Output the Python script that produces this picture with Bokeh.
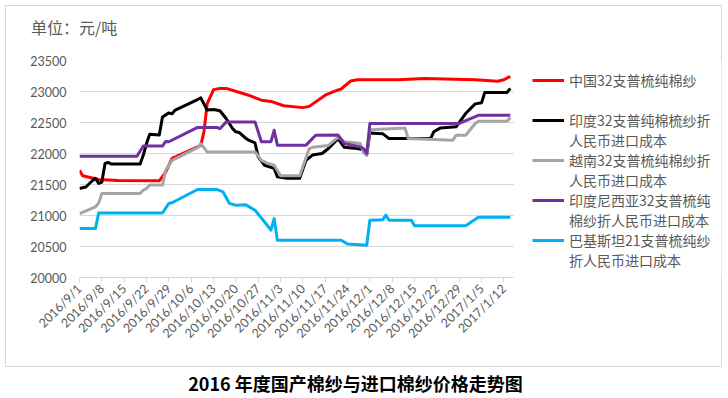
import math
import pandas as pd
from bokeh.plotting import figure
from bokeh.models import Range1d, FixedTicker, Legend, LegendItem, Title, LinearAxis
from bokeh.embed import file_html
from bokeh.resources import INLINE

# ---------------- data ----------------
start_date = "2016/9/1"

x_tick_labels = ["2016/9/1", "2016/9/8", "2016/9/15", "2016/9/22", "2016/9/29",
                 "2016/10/6", "2016/10/13", "2016/10/20", "2016/10/27", "2016/11/3",
                 "2016/11/10", "2016/11/17", "2016/11/24", "2016/12/1", "2016/12/8",
                 "2016/12/15", "2016/12/22", "2016/12/29", "2017/1/5", "2017/1/12"]
y_ticks = [20000, 20500, 21000, 21500, 22000, 22500, 23000, 23500]

china_dates = ["2016/9/1", "2016/9/2", "2016/9/7", "2016/9/13", "2016/9/26", "2016/9/28",
               "2016/9/30", "2016/10/9", "2016/10/10", "2016/10/11", "2016/10/13", "2016/10/15",
               "2016/10/17", "2016/10/24", "2016/10/28", "2016/10/31", "2016/11/4", "2016/11/10",
               "2016/11/12", "2016/11/17", "2016/11/20", "2016/11/22", "2016/11/25", "2016/11/27",
               "2016/12/10", "2016/12/18", "2017/1/3", "2017/1/10", "2017/1/12", "2017/1/14"]
china_vals = [21730, 21640, 21580, 21565, 21560, 21700,
              21920, 22130, 22350, 22800, 23030, 23050,
              23050, 22940, 22860, 22840, 22770, 22740,
              22760, 22940, 23005, 23040, 23170, 23190,
              23190, 23210, 23190, 23165, 23190, 23245]

india_dates = ["2016/9/1", "2016/9/3", "2016/9/5", "2016/9/6", "2016/9/7", "2016/9/8",
               "2016/9/9", "2016/9/10", "2016/9/11", "2016/9/20", "2016/9/21", "2016/9/22",
               "2016/9/23", "2016/9/26", "2016/9/27", "2016/9/29", "2016/9/30", "2016/10/1",
               "2016/10/8", "2016/10/9", "2016/10/11", "2016/10/13", "2016/10/15", "2016/10/17",
               "2016/10/18", "2016/10/19", "2016/10/20", "2016/10/21", "2016/10/23", "2016/10/24",
               "2016/10/26", "2016/10/27", "2016/10/29", "2016/11/1", "2016/11/2", "2016/11/5",
               "2016/11/9", "2016/11/11", "2016/11/13", "2016/11/16", "2016/11/18", "2016/11/21",
               "2016/11/23", "2016/11/27", "2016/11/29", "2016/11/30", "2016/12/1", "2016/12/5",
               "2016/12/7", "2016/12/20", "2016/12/21", "2016/12/23", "2016/12/28", "2016/12/31",
               "2017/1/3", "2017/1/5", "2017/1/6", "2017/1/13", "2017/1/14"]
india_vals = [21435, 21460, 21560, 21600, 21516, 21540,
              21840, 21855, 21830, 21830, 21975, 22160,
              22310, 22300, 22590, 22655, 22640, 22700,
              22870, 22900, 22700, 22710, 22690, 22560,
              22480, 22400, 22350, 22340, 22250, 22215,
              22170, 21945, 21810, 21760, 21625, 21600,
              21600, 21890, 21975, 22000, 22080, 22240,
              22100, 22080, 22060, 21975, 22330, 22320,
              22240, 22240, 22350, 22410, 22430, 22645,
              22800, 22820, 22985, 22985, 23050]

vietnam_dates = ["2016/9/1", "2016/9/4", "2016/9/6", "2016/9/7", "2016/9/8", "2016/9/20",
                 "2016/9/21", "2016/9/22", "2016/9/23", "2016/9/27", "2016/9/28", "2016/9/30",
                 "2016/10/8", "2016/10/9", "2016/10/11", "2016/10/26", "2016/10/28", "2016/10/30",
                 "2016/11/1", "2016/11/3", "2016/11/9", "2016/11/12", "2016/11/13", "2016/11/18",
                 "2016/11/21", "2016/11/23", "2016/11/28", "2016/11/29", "2016/11/30", "2016/12/1",
                 "2016/12/12", "2016/12/13", "2016/12/27", "2016/12/28", "2016/12/31", "2017/1/3",
                 "2017/1/4", "2017/1/13", "2017/1/14"]
vietnam_vals = [21030, 21095, 21140, 21200, 21355, 21355,
                21410, 21435, 21490, 21490, 21730, 21890,
                22095, 22160, 22025, 22025, 21890, 21840,
                21810, 21640, 21640, 22080, 22100, 22130,
                22260, 22190, 22160, 22010, 21975, 22385,
                22410, 22240, 22215, 22295, 22295, 22485,
                22520, 22520, 22580]

indonesia_dates = ["2016/9/1", "2016/9/19", "2016/9/21", "2016/9/27", "2016/9/28", "2016/9/29",
                   "2016/10/8", "2016/10/14", "2016/10/15", "2016/10/17", "2016/10/26", "2016/10/28",
                   "2016/10/31", "2016/11/1", "2016/11/2", "2016/11/11", "2016/11/14", "2016/11/21",
                   "2016/11/23", "2016/11/28", "2016/11/29", "2016/11/30", "2016/12/1", "2016/12/29",
                   "2017/1/4", "2017/1/14"]
indonesia_vals = [21955, 21955, 22120, 22120, 22195, 22190,
                  22420, 22420, 22400, 22510, 22510, 22190,
                  22190, 22375, 22135, 22135, 22295, 22300,
                  22160, 22105, 22080, 22000, 22485, 22485,
                  22615, 22615]

pakistan_dates = ["2016/9/1", "2016/9/6", "2016/9/7", "2016/9/27", "2016/9/29", "2016/9/30",
                  "2016/10/8", "2016/10/14", "2016/10/16", "2016/10/18", "2016/10/20", "2016/10/23",
                  "2016/10/26", "2016/10/29", "2016/10/31", "2016/11/1", "2016/11/2", "2016/11/22",
                  "2016/11/24", "2016/11/30", "2016/12/1", "2016/12/5", "2016/12/6", "2016/12/7",
                  "2016/12/14", "2016/12/15", "2016/12/31", "2017/1/4", "2017/1/14"]
pakistan_vals = [20790, 20790, 21040, 21040, 21195, 21205,
                 21420, 21420, 21380, 21195, 21165, 21175,
                 21085, 20895, 20765, 20950, 20600, 20600,
                 20540, 20520, 20925, 20930, 21005, 20925,
                 20925, 20835, 20835, 20970, 20970]

series_names = [
    ["中国32支普梳纯棉纱", " "],
    ["印度32支普纯棉梳纱折", "人民币进口成本"],
    ["越南32支普梳纯棉纱折", "人民币进口成本"],
    ["印度尼西亚32支普梳纯", "棉纱折人民币进口成本"],
    ["巴基斯坦21支普梳纯纱", "折人民币进口成本"],
]
series_colors = ["#FF0000", "#000000", "#A5A5A5", "#7030A0", "#00B0F0"]

unit_text = "单位：元/吨"
title_text = "2016 年度国产棉纱与进口棉纱价格走势图"

# ---------------- helpers ----------------
t0 = pd.Timestamp(start_date)


def to_days(dates):
    return [(pd.Timestamp(d) - t0).days for d in dates]


last_day = to_days(["2017/1/14"])[0] + 1          # data span shown by the axis line
px_per_day = 434 / last_day
plot_left, plot_right = 79, 721

# ---------------- chart ----------------
p = figure(width=728, height=398, output_backend="svg", toolbar_location=None,
           x_range=Range1d(0, (plot_right - plot_left) / px_per_day),
           y_range=Range1d(20000, 23500),
           min_border_left=plot_left, min_border_right=728 - plot_right,
           min_border_top=60, min_border_bottom=121)
p.outline_line_color = None
p.background_fill_color = "white"
p.border_fill_alpha = 0
g = "linear-gradient(#D9D9D9,#D9D9D9)"
p.styles = {"background": (f"{g} 5px 5px/717px 1px no-repeat, {g} 5px 366px/717px 1px no-repeat, "
                           f"{g} 5px 5px/1px 362px no-repeat, {g} 721px 5px/1px 362px no-repeat, white")}

tick_pos = to_days(x_tick_labels)
p.xaxis.bounds = (0, last_day)
p.xaxis.ticker = FixedTicker(ticks=tick_pos)
p.xaxis.major_label_overrides = {d: lab for d, lab in zip(tick_pos, x_tick_labels)}
p.xaxis.major_label_orientation = math.pi / 4
p.xaxis.major_label_text_font = "Lato"
p.xaxis.major_label_text_font_size = "12.5px"
p.xaxis.major_label_text_color = "#595959"
p.xaxis.axis_line_color = "#D9D9D9"
p.xaxis.major_tick_line_color = "#D9D9D9"
p.xaxis.major_tick_out = 5
p.xaxis.major_tick_in = 0
p.xaxis.minor_tick_line_color = None
p.xaxis.major_label_standoff = 4

p.yaxis.ticker = FixedTicker(ticks=y_ticks)
p.yaxis.axis_line_color = None
p.yaxis.major_tick_line_color = None
p.yaxis.minor_tick_line_color = None
p.yaxis.major_tick_out = 0
p.yaxis.major_tick_in = 0
p.yaxis.major_label_standoff = 13
p.yaxis.major_label_text_font = "Lato"
p.yaxis.major_label_text_font_size = "12.5px"
p.yaxis.major_label_text_color = "#595959"

p.xgrid.grid_line_color = None
p.ygrid.grid_line_color = "#D9D9D9"
p.ygrid.grid_line_width = 1

all_dates = [china_dates, india_dates, vietnam_dates, indonesia_dates, pakistan_dates]
all_vals = [china_vals, india_vals, vietnam_vals, indonesia_vals, pakistan_vals]

renderers = []
for dates, vals, col in zip(all_dates, all_vals, series_colors):
    r = p.line(to_days(dates), vals, line_color=col, line_width=3, line_join="round")
    renderers.append(r)

dummy = p.line(x=[0, 0], y=[20000, 20000], line_alpha=0, line_width=3)

items = []
for r, (l1, l2) in zip(renderers, series_names):
    items.append(LegendItem(label=l1, renderers=[r]))
    items.append(LegendItem(label=l2, renderers=[dummy]))

# legend sits in the plot area right of the data; its white box hides the grid there
legend = Legend(items=items, location=(435, -11.4), padding=18, margin=0, spacing=0,
                label_height=20, glyph_height=20, glyph_width=32, label_standoff=5,
                label_width=170,
                label_text_font="Noto Sans CJK SC", label_text_font_size="14px",
                label_text_color="#595959", border_line_alpha=0,
                background_fill_color="white", background_fill_alpha=1)
p.add_layout(legend)

# caption under the chart: label of an extra, tick-less bottom axis
# (trailing ideographic spaces move the centred caption to the left, as in the original)
cap_axis = LinearAxis(ticker=FixedTicker(ticks=[]), bounds=(0, last_day),
                      axis_label=title_text + "\u3000" * 5, axis_line_color=None,
                      major_tick_line_color=None, minor_tick_line_color=None,
                      major_tick_out=0, major_tick_in=0, major_label_standoff=0,
                      axis_label_standoff=20, axis_label_text_font="Noto Sans CJK SC",
                      axis_label_text_font_size="18px", axis_label_text_font_style="bold",
                      axis_label_text_color="#000000")
p.add_layout(cap_axis, "below")

# unit label as the plot title, lifted by an empty spacer title
p.add_layout(Title(text=" ", text_font_size="1px", standoff=16), "above")
p.title.text = unit_text
p.title.align = "left"
p.title.offset = -48.5
p.title.vertical_align = "middle"
p.title.standoff = 4
p.title.text_font = "Noto Sans CJK SC"
p.title.text_font_size = "16px"
p.title.text_font_style = "normal"
p.title.text_color = "#595959"

open("out.html", "w").write(file_html(p, INLINE))
